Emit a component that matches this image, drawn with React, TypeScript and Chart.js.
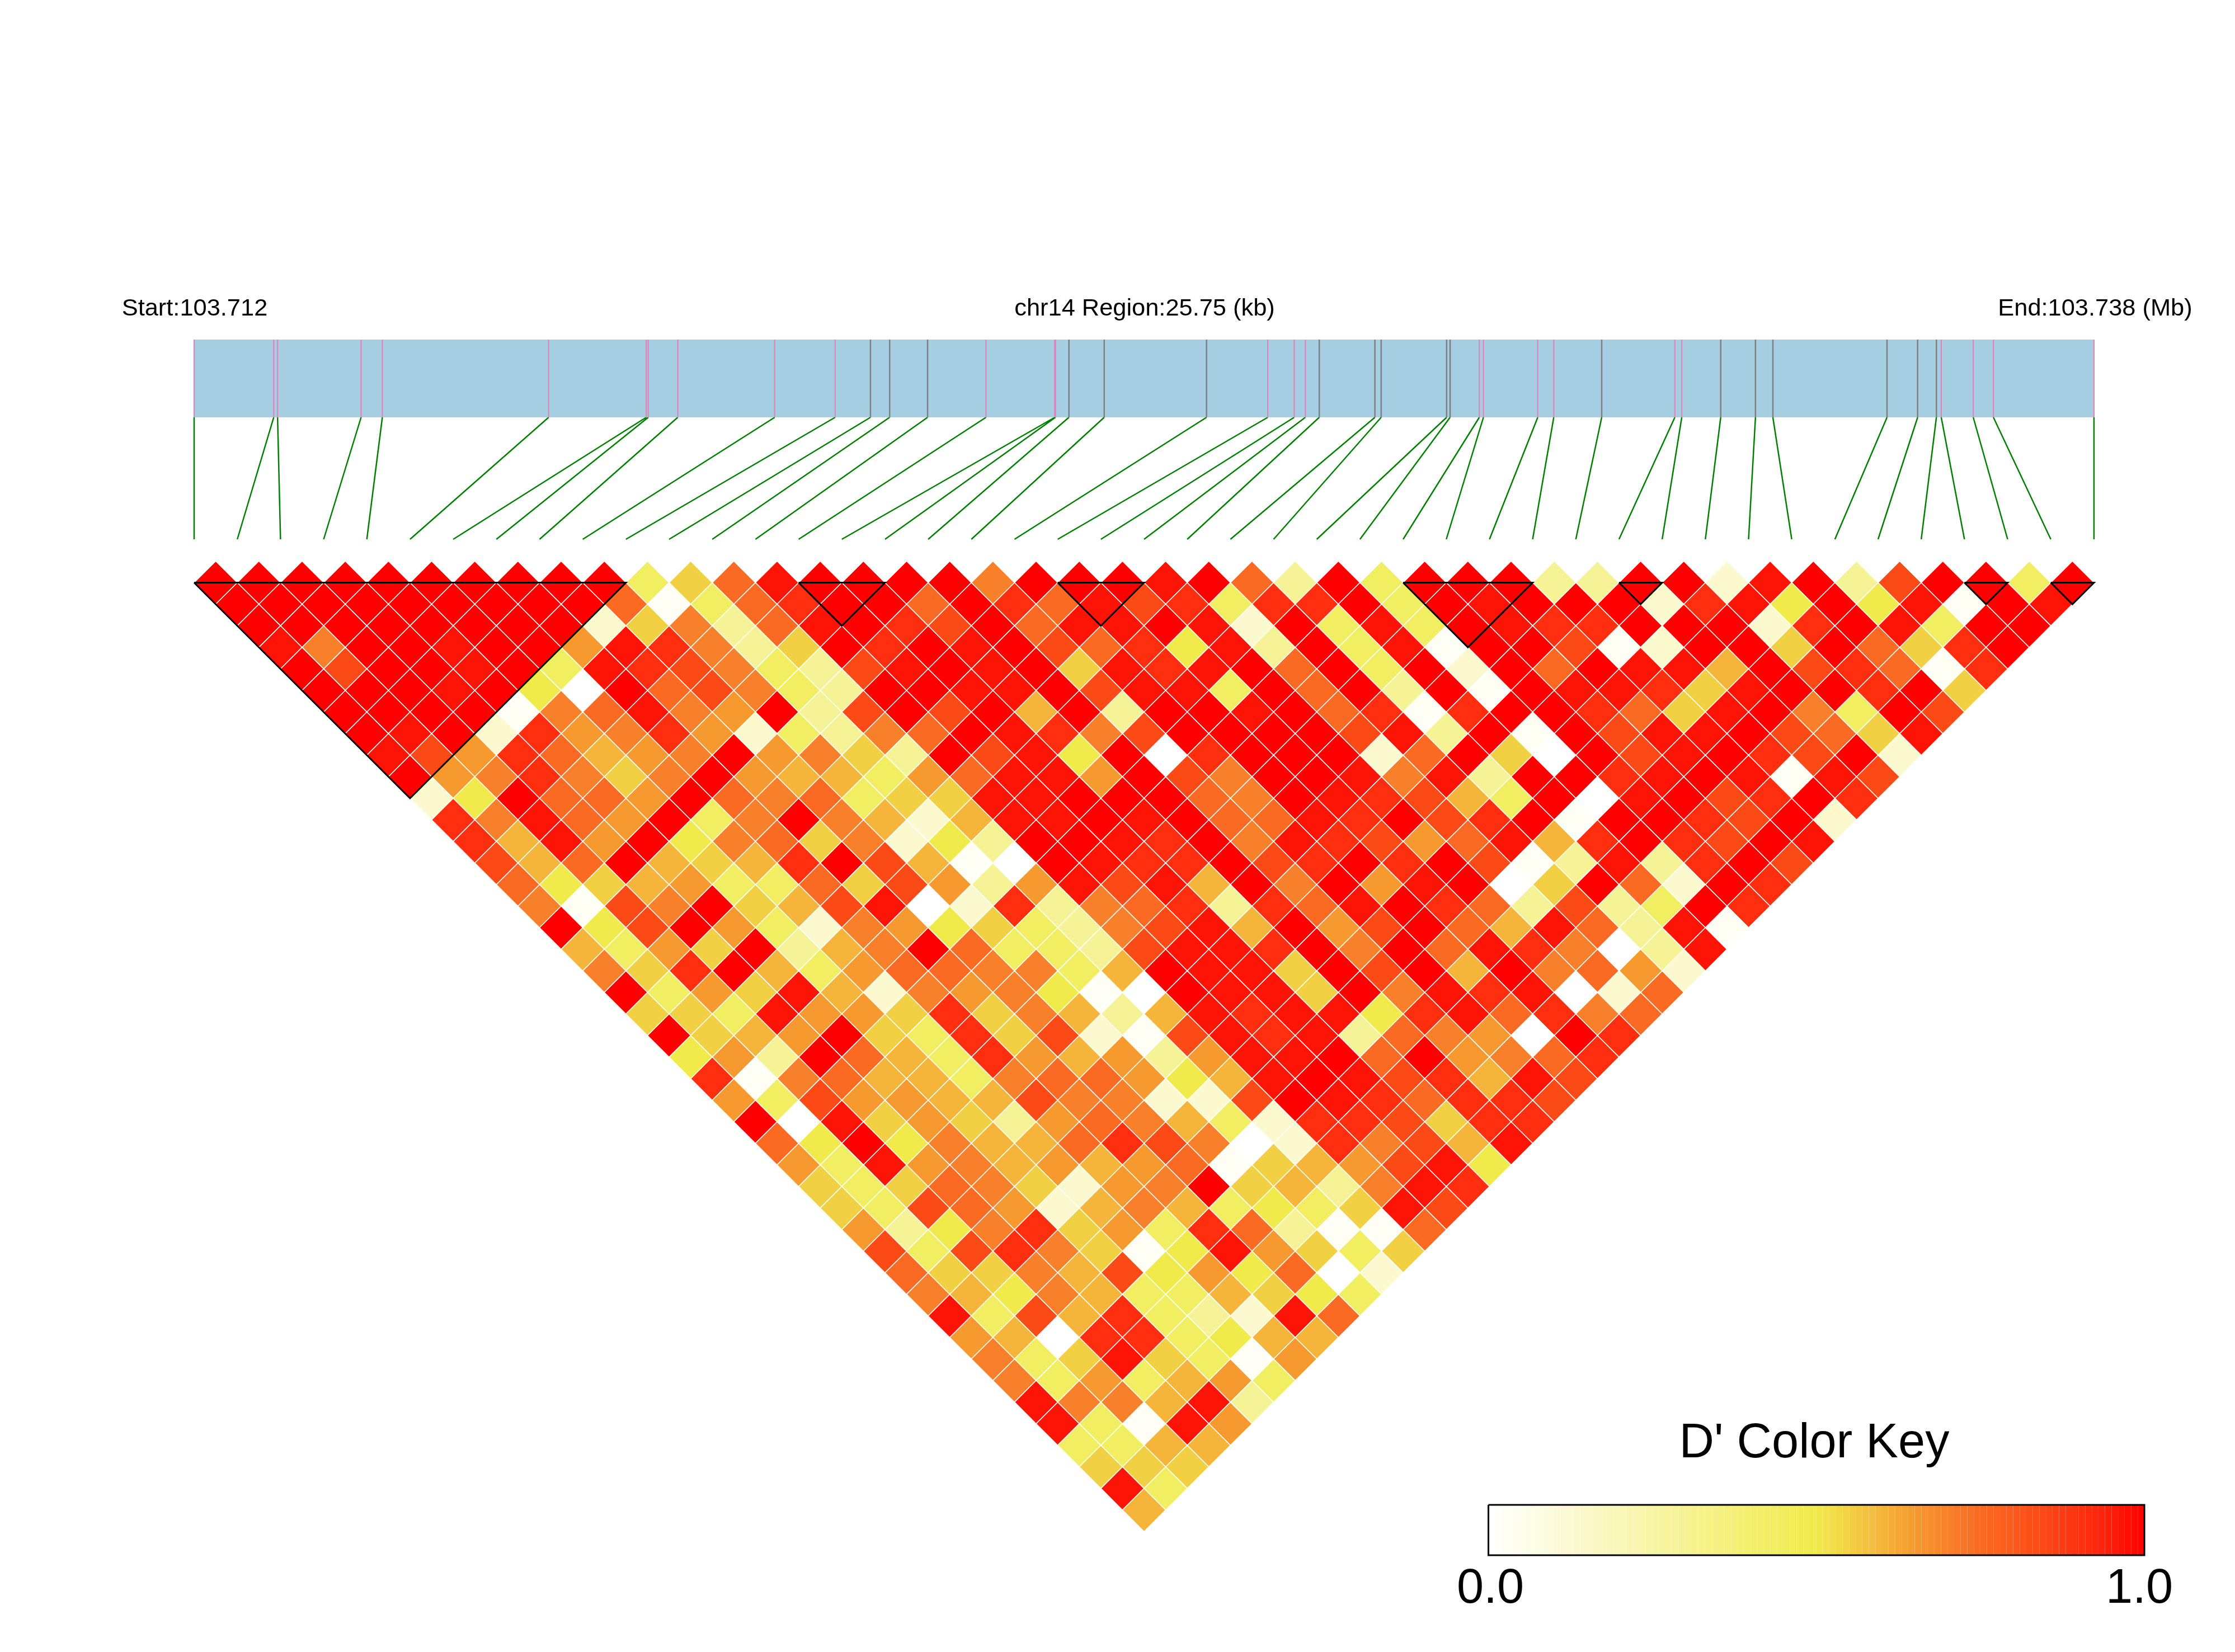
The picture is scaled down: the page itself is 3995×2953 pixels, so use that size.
import React, { useEffect, useRef } from "react";
import { Chart, registerables } from "chart.js";

Chart.register(...registerables);

// ---- Data ----
const regionKb = 25.75;
const snpPositionsKb = [
  0, 1.079, 1.131, 2.263, 2.551, 4.805, 6.128, 6.155, 6.555, 7.869, 8.688, 9.167, 9.427, 9.941, 10.733,
  11.665, 11.674, 11.857, 12.335, 13.722, 14.552, 14.91, 15.061, 15.25, 16.004, 16.089, 16.976, 17.023,
  17.419, 17.475, 18.211, 18.428, 19.078, 20.069, 20.163, 20.691, 21.162, 21.398, 22.945, 23.36, 23.614,
  23.68, 24.114, 24.387, 25.75,
];
// p = pink tick, g = grey tick
const snpClasses = "ppppppppppp ggg ppp ggg ppp ggggg pppp g pp gggggg pppp".replace(/ /g, "");

const blockStarts = [0, 14, 20, 28, 33, 41, 43];
const blockEnds = [10, 16, 22, 31, 34, 42, 44];

// D' level of every letter used in the rows below
const levelValues: Record<string, number> = {
  a: 0, b: 0.03, c: 0.14, d: 0.29, e: 0.435, f: 0.5, g: 0.55, h: 0.6, i: 0.65, j: 0.7, k: 0.75, l: 0.84,
  m: 0.91, n: 0.965, o: 1,
};

const row00 = "oooooooooo egknoooo jooonokdoe ooodd oocnodlooeo";
const row01 = "ooooooooo kbekmookom knlmemmoeo nooocmnfof nbon";
const row02 = "oooooooo cgjdknomlo knnoncoene onmmooocmo neoo";
const row03 = "njoonooinm jdgomonolk mfndoenboo lbcoogokgm o";
const row04 = "oloonoenml jedlnonogn mnokoeocok onnholmkbm";
const row05 = "ooonofaokl jedoonnoln neokodobon nmgnoomog";
const row06 = "oooobjknji odlolohodo onokmbmoom kgnojeol";
const row07 = "onocmijmic edjkonmjlo ooolndobol nnolkgn";
const row08 = "nlimkhijoi jgdolnfoam ooockogaol nomloc";
const row09 = "oijmjgjoih heiknniolj oonjndoomn onbnl";
const row10 = "cfokkiokjk eggnnoookj onmlheoano lmom";
const row11 = "mjnkioejoj hchnnonokk nmolmoboom loc";
const row12 = "mhniofjkgj cfdoonmojn mliknhmoml on";
const row13 = "lhkohghmol hbaonmmolm omolbdndmo l";
const row14 = "kfghieekgl idinlnhojo inoagokcom";
const row15 = "jbljoghlna cmdjkmdmkn omkdldeom";
const row16 = "ofloiecjif gedjlnhoil okhnkdnb";
const row17 = "heigodhjok eedlnnmojo knmjadn";
const row18 = "jgmoheikkj jehonngolo hojkic";
const row19 = "oeignhcjij fbaonngojn mnack";
const row20 = "ggeniigmgj hdhnmnnfmn kmjk";
const row21 = "oghiogemgl cblnmndkji aom";
const row22 = "fidokhemih idinnokoij km";
const row23 = "mbjkhhejkk ifhnonlmhn l";
const row24 = "ieliihhljj cclonmkmml";
const row25 = "oangigdikj hecmmlgmm";
const row26 = "kfofjhhkml jacmjlhn";
const row27 = "ienijhihik bghilnf";
const row28 = "gegkjgcijo ghdjnm";
const row29 = "gelkichjhe fegnl";
const row30 = "idfjmgiemk dbbk";
const row31 = "lelmjgbfni geg";
const row32 = "kggjhlfifk ac";
const row33 = "jhfjheehgf e";
const row34 = "nelhmedcnk";
const row35 = "ihammefhh";
const row36 = "jegngebi";
const row37 = "jeiehie";
const row38 = "njjhnd";
const row39 = "nebni";
const row40 = "eehh";
const row41 = "ggg";
const row42 = "ne";
const row43 = "h";

const ldRows = [
  row00, row01, row02, row03, row04, row05, row06, row07, row08, row09, row10, row11, row12, row13, row14,
  row15, row16, row17, row18, row19, row20, row21, row22, row23, row24, row25, row26, row27, row28, row29,
  row30, row31, row32, row33, row34, row35, row36, row37, row38, row39, row40, row41, row42, row43,
];

// ---- Colour ramp of the key ----
const rampStops: [number, number[]][] = [
  [0, [255, 255, 255]],
  [0.5, [240, 235, 75]],
  [0.55, [242, 208, 67]],
  [0.6, [244, 181, 58]],
  [0.65, [246, 154, 48]],
  [0.7, [248, 128, 42]],
  [0.75, [250, 106, 34]],
  [0.82, [252, 82, 25]],
  [0.88, [253, 58, 18]],
  [0.94, [254, 34, 10]],
  [1, [255, 0, 0]],
];
function rampColor(v: number): string {
  let k = 0;
  while (k < rampStops.length - 2 && v > rampStops[k + 1][0]) k++;
  const [a, ca] = rampStops[k];
  const [b, cb] = rampStops[k + 1];
  const t = Math.min(1, Math.max(0, (v - a) / (b - a)));
  const c = ca.map((x, n) => Math.round(x + (cb[n] - x) * t));
  return `rgb(${c[0]},${c[1]},${c[2]})`;
}

// ---- Layout: the scales run in SNP steps (x) and triangle rows (y) ----
const W = 3995;
const H = 2953;
const X0 = 347;
const XU = 77.18;
const Y0 = 1041.5;
const YU = 38.55;
const xOf = (px: number) => (px - X0) / XU;
const yOf = (px: number) => (px - Y0) / YU;

const GAP = { x: NaN, y: NaN };
const kbToStep = (kb: number) => (kb / regionKb) * (snpPositionsKb.length - 1);

export default function App() {
  const ref = useRef<HTMLCanvasElement>(null);

  useEffect(() => {
    const cells: { x: number; y: number }[] = [];
    const cellColors: string[] = [];
    ldRows.forEach((raw, r) => {
      const row = raw.replace(/ /g, "");
      for (let i = 0; i < row.length; i++) {
        cells.push({ x: i + (r + 1) / 2, y: r });
        cellColors.push(rampColor(levelValues[row[i]]));
      }
    });

    const stripTop = yOf(607);
    const stripBottom = yOf(746);
    const linkBottom = yOf(964);
    const pink: { x: number; y: number }[] = [];
    const grey: { x: number; y: number }[] = [];
    const links: { x: number; y: number }[] = [];
    snpPositionsKb.forEach((kb, i) => {
      const x = kbToStep(kb);
      const target = snpClasses[i] === "g" ? grey : pink;
      target.push({ x, y: stripTop }, { x, y: stripBottom }, GAP);
      links.push({ x, y: stripBottom }, { x: i, y: linkBottom }, GAP);
    });

    const blocks: { x: number; y: number }[] = [];
    blockStarts.forEach((a, n) => {
      const b = blockEnds[n];
      blocks.push({ x: a, y: 0 }, { x: b, y: 0 }, { x: (a + b) / 2, y: b - a }, { x: a, y: 0 }, GAP);
    });

    const keyL = xOf(2660.5);
    const keyR = xOf(3833);
    const keyT = yOf(2690);
    const keyB = yOf(2780);
    const keyMid = (keyT + keyB) / 2;
    const keySteps = 100;
    const keyPoints: { x: number; y: number }[] = [];
    for (let n = 0; n <= keySteps; n++) keyPoints.push({ x: keyL + ((keyR - keyL) * n) / keySteps, y: keyMid });

    const lineBase = { showLine: true, pointRadius: 0, tension: 0, spanGaps: false, borderCapStyle: "butt" as const };

    const labels = {
      id: "labels",
      afterDraw(chart: Chart) {
        const c = chart.ctx;
        c.save();
        c.fillStyle = "#000";
        c.textAlign = "center";
        c.textBaseline = "alphabetic";
        c.font = '43.4px "Liberation Sans", Arial, sans-serif';
        c.fillText("Start:103.712", 348, 564);
        c.fillText("chr14 Region:25.75 (kb)", 2046, 564);
        c.fillText("End:103.738 (Mb)", 3745, 564);
        c.font = '86.5px "Liberation Sans", Arial, sans-serif';
        c.fillText("D' Color Key", 3243, 2605);
        c.fillText("0.0", 2664, 2865);
        c.fillText("1.0", 3824, 2865);
        c.restore();
      },
    };

    const chart = new Chart(ref.current!, {
      type: "scatter",
      data: {
        datasets: [
          { ...lineBase, data: blocks, borderColor: "#000", borderWidth: 3, borderJoinStyle: "miter" },
          {
            ...lineBase,
            data: [
              { x: keyL, y: keyT },
              { x: keyR, y: keyT },
              { x: keyR, y: keyB },
              { x: keyL, y: keyB },
              { x: keyL, y: keyT },
            ],
            borderColor: "#000",
            borderWidth: 3,
          },
          {
            ...lineBase,
            data: keyPoints,
            borderWidth: 90,
            borderColor: "#fff",
            segment: { borderColor: (ctx: any) => rampColor((ctx.p0DataIndex + 0.5) / keySteps) },
          },
          { ...lineBase, data: pink, borderColor: "#E283BC", borderWidth: 2.2 },
          { ...lineBase, data: grey, borderColor: "#7F7F7F", borderWidth: 2.5 },
          {
            ...lineBase,
            data: [
              { x: 0, y: (stripTop + stripBottom) / 2 },
              { x: snpPositionsKb.length - 1, y: (stripTop + stripBottom) / 2 },
            ],
            borderColor: "#A6CEE3",
            borderWidth: 139,
          },
          { ...lineBase, data: links, borderColor: "#008000", borderWidth: 2.5 },
          {
            data: cells,
            pointStyle: "rectRot",
            pointRadius: 38.6,
            pointHoverRadius: 38.6,
            backgroundColor: cellColors,
            pointBackgroundColor: cellColors,
            pointBorderColor: "#fff",
            pointBorderWidth: 1.5,
            showLine: false,
          },
        ] as any,
      },
      options: {
        responsive: false,
        animation: false,
        devicePixelRatio: 1,
        events: [],
        layout: { padding: 0, autoPadding: false },
        plugins: { legend: { display: false }, tooltip: { enabled: false }, title: { display: false } },
        scales: {
          x: { type: "linear", display: false, min: xOf(0), max: xOf(W) },
          y: { type: "linear", display: false, reverse: true, min: yOf(0), max: yOf(H) },
        },
      },
      plugins: [labels],
    });
    return () => chart.destroy();
  }, []);

  return (
    <div style={{ position: "absolute", left: 0, top: 0, width: W, height: H, background: "#fff" }}>
      <canvas ref={ref} width={W} height={H} style={{ display: "block" }} />
    </div>
  );
}
